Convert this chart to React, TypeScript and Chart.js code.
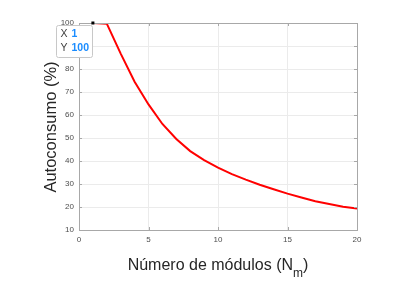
import React, { useEffect, useRef } from 'react';
import { Chart, registerables } from 'chart.js';

Chart.register(...registerables);

const modules = [1, 2, 3, 4, 5, 6, 7, 8, 9, 10, 11, 12, 13, 14, 15, 16, 17, 18, 19, 20];
const autoconsumo = [100, 99.7, 86.7, 74.5, 64.6, 56.1, 49.6, 44.3, 40.4, 37.1, 34.3, 31.9, 29.7, 27.7, 25.8, 24.1, 22.5, 21.3, 20.1, 19.3];
const xTickValues = [0, 5, 10, 15, 20];
const yTickValues = [10, 20, 30, 40, 50, 60, 70, 80, 90, 100];
const xTitleMain = 'Número de módulos (N';
const xTitleSub = 'm';
const xTitleEnd = ')';
const yTitle = 'Autoconsumo (%)';
const tipIndex = 0;
const tipLabelX = 'X';
const tipLabelY = 'Y';

const FONT = '"Liberation Sans", Arial, Helvetica, sans-serif';
const BORDER = '#a8a8a8';
const TICKCOL = '#4d4d4d';

const decorPlugin = {
  id: 'matlabDecor',
  afterDraw(chart: any) {
    const { ctx, chartArea, scales } = chart;
    const { left, right, top, bottom } = chartArea;
    ctx.save();
    // box
    ctx.strokeStyle = BORDER;
    ctx.lineWidth = 1;
    ctx.strokeRect(Math.round(left) + 0.5, Math.round(top) + 0.5, Math.round(right - left), Math.round(bottom - top));
    // inward ticks
    ctx.beginPath();
    const tl = 3;
    xTickValues.forEach((v) => {
      const x = Math.round(scales.x.getPixelForValue(v)) + 0.5;
      ctx.moveTo(x, bottom); ctx.lineTo(x, bottom - tl);
      ctx.moveTo(x, top); ctx.lineTo(x, top + tl);
    });
    yTickValues.forEach((v) => {
      const y = Math.round(scales.y.getPixelForValue(v)) + 0.5;
      ctx.moveTo(left, y); ctx.lineTo(left + tl, y);
      ctx.moveTo(right, y); ctx.lineTo(right - tl, y);
    });
    ctx.stroke();

    // axis titles
    ctx.fillStyle = '#262626';
    ctx.textBaseline = 'alphabetic';
    const titleFont = `16px ${FONT}`;
    const subFont = `12px ${FONT}`;
    ctx.font = titleFont;
    const w1 = ctx.measureText(xTitleMain).width;
    const w3 = ctx.measureText(xTitleEnd).width;
    ctx.font = subFont;
    const w2 = ctx.measureText(xTitleSub).width;
    const total = w1 + w2 + w3;
    const cx = 218;
    let sx = cx - total / 2;
    const by = 270;
    ctx.font = titleFont;
    ctx.textAlign = 'left';
    ctx.fillText(xTitleMain, sx, by);
    sx += w1;
    ctx.font = subFont;
    ctx.fillText(xTitleSub, sx, by + 7);
    sx += w2;
    ctx.font = titleFont;
    ctx.fillText(xTitleEnd, sx, by);

    ctx.save();
    ctx.translate(56, 127);
    ctx.rotate(-Math.PI / 2);
    ctx.textAlign = 'center';
    ctx.font = `16.5px ${FONT}`;
    ctx.fillText(yTitle, 0, 0);
    ctx.restore();

    // datatip
    const px = scales.x.getPixelForValue(modules[tipIndex]);
    const py = scales.y.getPixelForValue(autoconsumo[tipIndex]);
    const bx = Math.round(px - 37) + 0.5, byy = Math.round(py + 2) + 0.5, bw = 36, bh = 32;
    ctx.beginPath();
    const r = 2;
    ctx.moveTo(bx + r, byy);
    ctx.lineTo(bx + bw - r, byy);
    ctx.quadraticCurveTo(bx + bw, byy, bx + bw, byy + r);
    ctx.lineTo(bx + bw, byy + bh - r);
    ctx.quadraticCurveTo(bx + bw, byy + bh, bx + bw - r, byy + bh);
    ctx.lineTo(bx + r, byy + bh);
    ctx.quadraticCurveTo(bx, byy + bh, bx, byy + bh - r);
    ctx.lineTo(bx, byy + r);
    ctx.quadraticCurveTo(bx, byy, bx + r, byy);
    ctx.closePath();
    ctx.fillStyle = 'rgba(255,255,255,0.97)';
    ctx.fill();
    ctx.strokeStyle = '#c8c8c8';
    ctx.stroke();

    ctx.textAlign = 'left';
    ctx.textBaseline = 'middle';
    ctx.font = `10.5px ${FONT}`;
    ctx.fillStyle = '#404040';
    ctx.fillText(tipLabelX, bx + 4, byy + 9);
    ctx.fillText(tipLabelY, bx + 4, byy + 23);
    ctx.font = `bold 10.5px ${FONT}`;
    ctx.fillStyle = '#1a8cff';
    ctx.fillText(String(modules[tipIndex]), bx + 15, byy + 9);
    ctx.fillText(String(autoconsumo[tipIndex]), bx + 15, byy + 23);

    // marker
    ctx.fillStyle = '#000000';
    ctx.fillRect(px - 1.5, py - 1.5, 3, 3);
    ctx.restore();
  },
};

export default function App() {
  const ref = useRef<HTMLCanvasElement | null>(null);
  useEffect(() => {
    if (!ref.current) return;
    const chart = new Chart(ref.current, {
      type: 'scatter',
      data: {
        datasets: [
          {
            data: modules.map((m, i) => ({ x: m, y: autoconsumo[i] })),
            showLine: true,
            borderColor: '#ff0000',
            borderWidth: 2,
            pointRadius: 0,
            tension: 0,
          },
        ],
      },
      options: {
        animation: false,
        responsive: false,
        layout: { padding: { left: 0, right: 53, top: 23, bottom: 0 } },
        plugins: { legend: { display: false }, tooltip: { enabled: false } },
        scales: {
          x: {
            type: 'linear',
            min: 0,
            max: 20,
            afterFit: (s: any) => { s.height = 55; },
            afterBuildTicks: (s: any) => { s.ticks = xTickValues.map((v) => ({ value: v })); },
            ticks: { color: TICKCOL, font: { size: 8, family: FONT }, padding: 5, maxRotation: 0 },
            grid: { color: '#ebebeb', drawTicks: false },
            border: { color: BORDER },
          },
          y: {
            type: 'linear',
            min: 10,
            max: 100,
            afterFit: (s: any) => { s.width = 79; },
            afterBuildTicks: (s: any) => { s.ticks = yTickValues.map((v) => ({ value: v })); },
            ticks: { color: TICKCOL, font: { size: 8, family: FONT }, padding: 5 },
            grid: { color: '#ebebeb', drawTicks: false },
            border: { color: BORDER },
          },
        },
      },
      plugins: [decorPlugin],
    });
    return () => chart.destroy();
  }, []);
  return (
    <div style={{ position: 'fixed', left: 0, top: 0, width: 410, height: 285, background: '#fff' }}>
      <canvas ref={ref} width={410} height={285} style={{ width: 410, height: 285, display: 'block' }} />
    </div>
  );
}
